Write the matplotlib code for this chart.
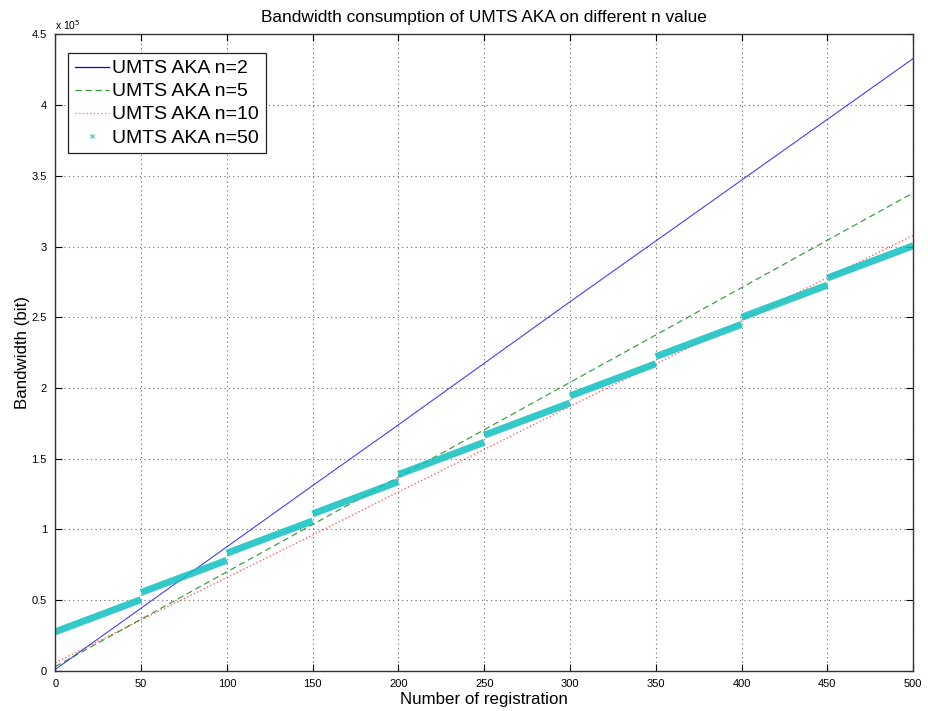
import matplotlib
matplotlib.use("Agg")
import matplotlib.pyplot as plt
from matplotlib.lines import Line2D
from matplotlib.ticker import FuncFormatter
import numpy as np

plt.rcParams["font.family"] = ["Liberation Sans", "DejaVu Sans"]

# values, bandwidth in units of 1e5 bit
x_pts = [0, 50, 100, 150, 200, 250, 300, 350, 400, 450, 500]
n2 = [0.01, 0.443, 0.877, 1.31, 1.74, 2.175, 2.61, 3.04, 3.47, 3.90, 4.33]
n5 = [0.03, 0.365, 0.70, 1.035, 1.37, 1.705, 2.04, 2.375, 2.71, 3.045, 3.38]
n10 = [0.057, 0.36, 0.66, 0.96, 1.265, 1.565, 1.87, 2.17, 2.475, 2.78, 3.08]

# n=50: one straight run per block of 50 registrations
blk_start = [0, 50, 100, 150, 200, 250, 300, 350, 400, 450]
blk_end = [50, 100, 150, 200, 250, 300, 350, 400, 450, 500]
n50_start = [0.276, 0.554, 0.832, 1.110, 1.388, 1.666, 1.944, 2.222, 2.500, 2.778]
n50_end = [0.504, 0.782, 1.060, 1.338, 1.616, 1.894, 2.172, 2.450, 2.728, 3.006]

blue = "#0000ff"
green = "#008000"
red = "#ff0000"
cyan = "#10c0c0"

fig = plt.figure(figsize=(9.29, 7.11), dpi=100)
ax = fig.add_axes([0.0595, 0.0565, 0.9235, 0.895])

ax.plot(x_pts, n2, "-", color=blue, lw=0.8, alpha=0.75)
ax.plot(x_pts, n5, "--", color=green, lw=0.9, alpha=0.75, dashes=(5, 3))
ax.plot(x_pts, n10, ":", color=red, lw=1.0, alpha=0.6)
for x0, x1, y0, y1 in zip(blk_start, blk_end, n50_start, n50_end):
    ax.plot([x0, x1], [y0, y1], "-", color=cyan, lw=5.0, solid_capstyle="butt", alpha=0.85)

ax.set_xlim(0, 500)
ax.set_ylim(0, 4.5)
ax.set_xticks(np.arange(0, 501, 50))
ax.set_yticks(np.arange(0, 4.51, 0.5))
ax.yaxis.set_major_formatter(FuncFormatter(lambda v, p: "%g" % v))
ax.tick_params(direction="in", labelsize=8, length=5, top=True, right=True, pad=6)
ax.grid(True, linestyle=(0, (1, 3)), color="#666666", lw=0.8)
for s in ax.spines.values():
    s.set_color("#333333")
    s.set_linewidth(1.0)

ax.text(0.0, 1.004, r"x 10$^5$", transform=ax.transAxes, fontsize=7.5, ha="left", va="bottom")
ax.set_title("Bandwidth consumption of UMTS AKA on different n value", fontsize=12.4, pad=9)
ax.set_xlabel("Number of registration", fontsize=12.2, labelpad=2)
ax.set_ylabel("Bandwidth (bit)", fontsize=12.2, labelpad=1)

handles = [
    Line2D([], [], color=blue, lw=0.9, ls="-"),
    Line2D([], [], color=green, lw=0.9, ls="--", dashes=(5, 3), alpha=0.8),
    Line2D([], [], color=red, lw=1.0, ls=":", alpha=0.5),
    Line2D([], [], color=cyan, ls="none", marker="x", ms=3.5, alpha=0.7),
]
labels = ["UMTS AKA n=2", "UMTS AKA n=5", "UMTS AKA n=10", "UMTS AKA n=50"]
leg = ax.legend(handles, labels, loc="upper left", bbox_to_anchor=(0.0145, 0.971),
                fontsize=14, fancybox=False, framealpha=1, edgecolor="#222222",
                handlelength=1.75, handletextpad=0.2, borderpad=0.35, labelspacing=0.28,
                borderaxespad=0)
leg.get_frame().set_linewidth(0.9)

fig.savefig("out.png", dpi=100)
